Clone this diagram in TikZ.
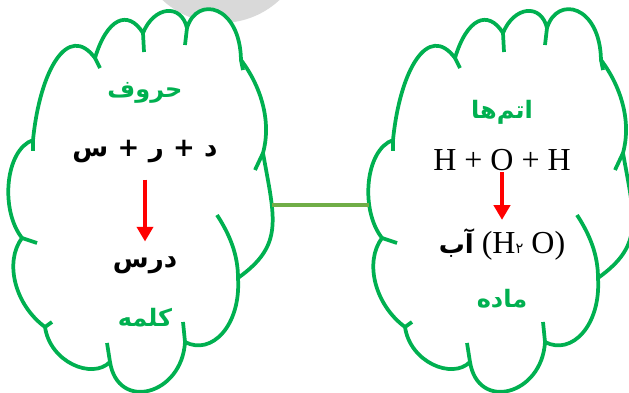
\documentclass[tikz,border=0pt]{standalone}
\usepackage{fontspec}
\setmainfont{Liberation Serif}
\newfontfamily\arabicfont[Script=Arabic]{DejaVu Sans}
\TeXXeTstate=1
\usetikzlibrary{arrows.meta}
\definecolor{cloudgreen}{HTML}{00B050}
\definecolor{linkgreen}{HTML}{70AD47}
\definecolor{topgrey}{HTML}{D9D9D9}

\tikzset{
  cloudline/.style={draw=cloudgreen, line width=2.8pt, line join=round},
  bubble/.pic={
    \draw[cloudline, fill=white] (33,140) .. controls (40,70) and (68,22) .. (95,58)
      .. controls (107,18) and (128,9) .. (143,33)
      .. controls (154,6) and (181,3) .. (187,28)
      .. controls (197,-5) and (240,5) .. (241,60)
      .. controls (260,85) and (272,120) .. (263,153)
      .. controls (275,220) and (284,245) .. (238,278)
      .. controls (241,325) and (212,356) .. (185,342)
      .. controls (182,395) and (118,412) .. (110,362)
      .. controls (92,380) and (50,362) .. (45,327)
      .. controls (15,305) and (4,262) .. (22,238)
      .. controls (0,210) and (5,150) .. (33,140) -- cycle;
    % inner ends of the puffs
    \draw[cloudline] (95,58) -- (100,68);
    \draw[cloudline] (143,33) -- (144,52);
    \draw[cloudline] (187,28) -- (185,45);
    \draw[cloudline] (241,60) -- (243,70);
    \draw[cloudline] (263,153) -- (255,170);
    \draw[cloudline] (238,278) .. controls (238,255) and (230,235) .. (217,215);
    \draw[cloudline] (185,342) -- (183,322);
    \draw[cloudline] (110,362) -- (107,343);
    \draw[cloudline] (45,327) -- (52,322);
    \draw[cloudline] (22,238) -- (37,243);
    \draw[cloudline] (33,140) -- (33,151);
    \coordinate (-east) at (272,205);
    \coordinate (-west) at (9,205);
  }
}

\begin{document}
\begin{tikzpicture}[x=0.75pt,y=-0.75pt,
    title/.style={text=cloudgreen, inner sep=1pt, font=\arabicfont\bfseries\fontsize{18}{22}\selectfont},
    fa/.style={inner sep=1pt, font=\arabicfont\bfseries\fontsize{19.5}{23}\selectfont},
    latin/.style={inner sep=1pt, font=\fontsize{24}{28}\selectfont},
    turn/.style={draw=red, line width=2.8pt, -{Triangle[width=12pt,length=11pt]}}]
  \useasboundingbox (0,0) rectangle (629,393);
  \fill[topgrey] (221,-63) circle[radius=86];
  % the two clouds
  \pic (wordcloud) at (0,0) {bubble};
  \pic (mattercloud) at (360,0) {bubble};
  \draw[linkgreen, line width=2.6pt] (wordcloud-east) -- (mattercloud-west);
  % letters -> word
  \node[title] (letters) at (145,93) {\beginR حروف\endR};
  \node[fa] (lettersum) at (145,152) {\beginR د\hspace{7pt}+\hspace{7pt}ر\hspace{7pt}+\hspace{7pt}س\endR};
  \node[fa] (word) at (145,265) {\beginR درس\endR};
  \node[title] (wordname) at (145,318) {\beginR کلمه\endR};
  % atoms -> matter
  \node[title] (atoms) at (502,112) {\beginR اتم‌ها\endR};
  \node[latin] (atomsum) at (502,160) {H + O + H};
  \node[latin] (water) at (502,244) {{\arabicfont\bfseries\fontsize{19.5}{23}\selectfont\beginR آب\endR} (H{\arabicfont\fontsize{11}{12}\selectfont ۲} O)};
  \node[title] (mattername) at (502,299) {\beginR ماده\endR};
  \draw[turn, shorten <=11pt, shorten >=10pt] (lettersum) -- (word);
  \draw[turn, shorten >=5pt] (atomsum) -- (water);
\end{tikzpicture}
\end{document}
